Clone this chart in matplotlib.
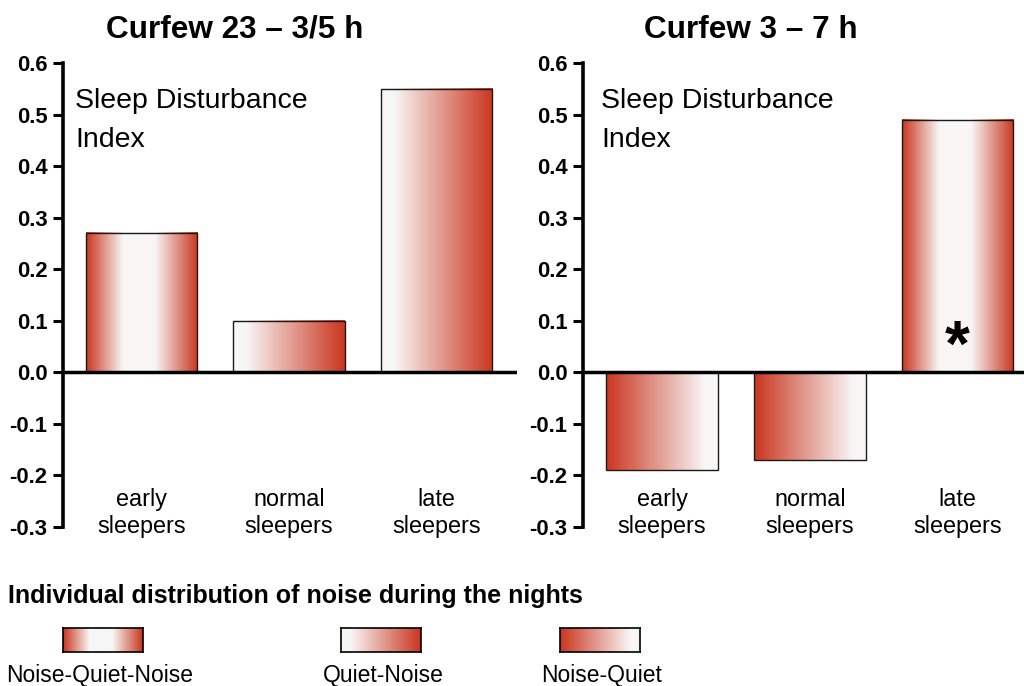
import numpy as np
import matplotlib
matplotlib.use('Agg')
import matplotlib.pyplot as plt
from matplotlib.colors import LinearSegmentedColormap
from matplotlib import font_manager as fm

# ---------------- data ----------------
categories = ['early\nsleepers', 'normal\nsleepers', 'late\nsleepers']
panel_titles = ['Curfew 23 \u2013 3/5 h', 'Curfew 3 \u2013 7 h']
values_curfew_23 = [0.27, 0.10, 0.55]
values_curfew_3 = [-0.19, -0.17, 0.49]
patterns_curfew_23 = ['NQN', 'QN', 'QN']
patterns_curfew_3 = ['NQ', 'NQ', 'NQN']
significant_curfew_23 = []
significant_curfew_3 = [2]
yticks = [-0.3, -0.2, -0.1, 0.0, 0.1, 0.2, 0.3, 0.4, 0.5, 0.6]
index_label = ['Sleep Disturbance', 'Index']
legend_title = 'Individual distribution of noise during the nights'
legend_keys = ['NQN', 'QN', 'NQ']
legend_labels = ['Noise-Quiet-Noise', 'Quiet-Noise', 'Noise-Quiet']

# ---------------- fonts ----------------
plt.rcParams['axes.unicode_minus'] = False
_names = {f.name for f in fm.fontManager.ttflist}
if 'Liberation Sans Narrow' in _names:
    NARROW = 'Liberation Sans Narrow'
    fs_cat, fs_idx, fs_leg = 20, 21.5, 19.5
else:
    NARROW = 'Liberation Sans'
    fs_cat, fs_idx, fs_leg = 16.8, 20.5, 16.5
BOLD = 'Liberation Sans'

W, H = 1024, 686
fig = plt.figure(figsize=(W / 100, H / 100), dpi=100)
fig.patch.set_facecolor('white')

def fx(px):
    return px / W

def fy(py):
    return (H - py) / H

RED = (0.79, 0.21, 0.12)
WHITE = (0.975, 0.962, 0.962)
cmaps = {
    'NQN': LinearSegmentedColormap.from_list('nqn', [(0, RED), (0.33, WHITE), (0.62, WHITE), (1, RED)]),
    'QN': LinearSegmentedColormap.from_list('qn', [(0, WHITE), (0.12, WHITE), (1, RED)]),
    'NQ': LinearSegmentedColormap.from_list('nq', [(0, RED), (0.88, WHITE), (1, WHITE)]),
}
grad = np.linspace(0, 1, 256).reshape(1, -1)

ax_bottom_px, ax_top_px = 527, 63
panels = [
    dict(left=63, right=517, xlim=(-0.532, 2.546), values=values_curfew_23,
         patterns=patterns_curfew_23, sig=significant_curfew_23, title_x=235, idx_x=75),
    dict(left=583, right=1024, xlim=(-0.535, 2.45), values=values_curfew_3,
         patterns=patterns_curfew_3, sig=significant_curfew_3, title_x=751, idx_x=601),
]

x = np.arange(len(categories))
for k, p in enumerate(panels):
    ax = fig.add_axes([fx(p['left']), fy(ax_bottom_px), (p['right'] - p['left']) / W,
                       (ax_bottom_px - ax_top_px) / H])
    bars = ax.bar(x, p['values'], width=0.757, facecolor='none', edgecolor='#1a1a1a',
                  linewidth=1.0, zorder=3)
    for b, pat in zip(bars, p['patterns']):
        x0, w, y0, h = b.get_x(), b.get_width(), b.get_y(), b.get_height()
        ax.imshow(grad, cmap=cmaps[pat], extent=(x0, x0 + w, y0, y0 + h), aspect='auto',
                  interpolation='bilinear', zorder=2)
    ax.axhline(0, color='black', linewidth=2.5, zorder=4)
    ax.set_xlim(*p['xlim'])
    ax.set_ylim(-0.3, 0.6)
    for s in ['top', 'right', 'bottom']:
        ax.spines[s].set_visible(False)
    ax.spines['left'].set_linewidth(2.6)
    ax.spines['left'].set_bounds(-0.3, 0.6)
    ax.set_xticks([])
    ax.set_yticks(yticks)
    ax.set_yticklabels([f'{v:.1f}' for v in yticks], fontfamily=BOLD, fontweight='bold',
                       fontsize=15.8)
    ax.tick_params(axis='y', length=7, width=2.2, pad=4.3)
    ax.patch.set_visible(False)

    for i, cat in enumerate(categories):
        l1, l2 = cat.split('\n')
        ax.text(i, -0.260, l1, ha='center', va='baseline', fontfamily=NARROW,
                fontsize=fs_cat, clip_on=False)
        ax.text(i, -0.3126, l2, ha='center', va='baseline', fontfamily=NARROW,
                fontsize=fs_cat, clip_on=False)
    for i in p['sig']:
        ax.text(i, 0.0136, '*', ha='center', va='baseline', fontfamily=BOLD,
                fontweight='bold', fontsize=46, zorder=5)

    fig.text(fx(p['title_x']), fy(38), panel_titles[k], ha='center', va='baseline',
             fontfamily=BOLD, fontweight='bold', fontsize=22.7)
    fig.text(fx(p['idx_x']), fy(108), index_label[0], ha='left', va='baseline',
             fontfamily=NARROW, fontsize=fs_idx)
    fig.text(fx(p['idx_x']), fy(146.7), index_label[1], ha='left', va='baseline',
             fontfamily=NARROW, fontsize=fs_idx)

# ---------------- legend ----------------
fig.text(fx(7.7), fy(603), legend_title, ha='left', va='baseline', fontfamily=BOLD,
         fontweight='bold', fontsize=18)
patch_left = [63, 341, 560]
label_center = [100, 383.5, 601.5]
for key, lab, pl, lc in zip(legend_keys, legend_labels, patch_left, label_center):
    lax = fig.add_axes([fx(pl), fy(652), 80 / W, 24 / H])
    lax.imshow(grad, cmap=cmaps[key], extent=(0, 1, 0, 1), aspect='auto',
               interpolation='bilinear')
    lax.set_xticks([])
    lax.set_yticks([])
    for s in lax.spines.values():
        s.set_linewidth(1.2)
        s.set_color('black')
    fig.text(fx(lc), fy(682), lab, ha='center', va='baseline', fontfamily=NARROW,
             fontsize=fs_leg)

fig.savefig('out.png', dpi=100, facecolor='white')
